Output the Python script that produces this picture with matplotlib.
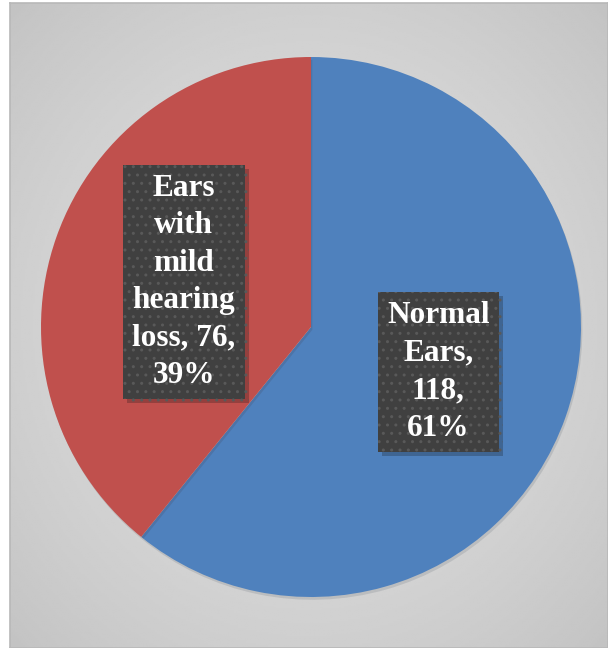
import numpy as np
import matplotlib.pyplot as plt
import matplotlib.patheffects as pe

labels = ['Normal\nEars,\n118,\n61%', 'Ears\nwith\nmild\nhearing\nloss, 76,\n39%']
counts = [118, 76]
colors = ['#4f81bd', '#c0504d']

plt.rcParams['font.family'] = ['Liberation Serif', 'DejaVu Serif']
plt.rcParams['hatch.linewidth'] = 1.0

fig = plt.figure(figsize=(6.08, 6.48), dpi=100)
fig.patch.set_facecolor('white')

# gray radial gradient background
bg = fig.add_axes([10 / 608, 0, 598 / 608, 645 / 648])
yy, xx = np.mgrid[-1:1:300j, -1:1:300j]
rr = np.sqrt(xx ** 2 + yy ** 2) / np.sqrt(2)
bg.imshow(0.875 - 0.11 * rr ** 1.5, cmap='gray', vmin=0, vmax=1,
          extent=[0, 1, 0, 1], aspect='auto', interpolation='bilinear')
bg.set_xticks([])
bg.set_yticks([])
for s in bg.spines.values():
    s.set_color('#b8b8b8')
    s.set_linewidth(1.2)

ax = fig.add_axes([41 / 608, 51 / 648, 540 / 608, 540 / 648])
wedges, texts = ax.pie(counts, labels=labels, colors=colors, startangle=90,
                       counterclock=False, labeldistance=0.5,
                       wedgeprops=dict(linewidth=0))
for w in wedges:
    w.set_path_effects([pe.SimplePatchShadow(offset=(1, -2), alpha=0.12), pe.Normal()])
for t in texts:
    t.set_ha('center')
    t.set_va('center')
    t.set_color('white')
    t.set_fontsize(22.5)
    t.set_fontweight('bold')
    t.set_linespacing(1.38)
    t.set_bbox(dict(boxstyle='square,pad=0.3', facecolor='#404040',
                    edgecolor='#595959', linewidth=0, hatch='..'))
    t.get_bbox_patch().set_path_effects(
        [pe.SimplePatchShadow(offset=(3, -3), alpha=0.25), pe.Normal()])
ax.set_xlim(-1, 1)
ax.set_ylim(-1, 1)
ax.set_aspect('equal')

plt.savefig('out.png', dpi=100)
